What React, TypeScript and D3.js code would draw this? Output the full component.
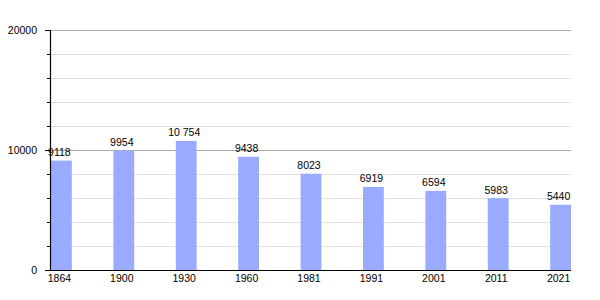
import React from "react";
import * as d3 from "d3";

const years = ["1864", "1900", "1930", "1960", "1981", "1991", "2001", "2011", "2021"];
const population = [9118, 9954, 10754, 9438, 8023, 6919, 6594, 5983, 5440];
const valueLabels = ["9118", "9954", "10 754", "9438", "8023", "6919", "6594", "5983", "5440"];
const majorTicks = [0, 10000, 20000];
const minorTicks = [2000, 4000, 6000, 8000, 12000, 14000, 16000, 18000];

export default function App() {
  const W = 600, H = 300;
  const left = 51, right = 571, top = 30, bottom = 270;
  const x = d3.scaleBand<string>().domain(years).range([left, right]).paddingInner(2 / 3).paddingOuter(0);
  const y = d3.scaleLinear().domain([0, 20000]).range([bottom, top]);
  const font = "'Liberation Sans', Arial, sans-serif";
  return (
    <svg width={W} height={H} style={{ position: "absolute", left: 0, top: 0, background: "#fff" }}>
      {minorTicks.map((t) => (
        <g key={"m" + t}>
          <line x1={left} x2={right} y1={y(t) + 0.5} y2={y(t) + 0.5} stroke="#e2e2e2" strokeWidth={1} />
          <line x1={47} x2={left} y1={y(t) + 0.5} y2={y(t) + 0.5} stroke="#000" strokeWidth={1} />
        </g>
      ))}
      {majorTicks.filter((t) => t > 0).map((t) => (
        <line key={"g" + t} x1={left} x2={right} y1={y(t) + 0.5} y2={y(t) + 0.5} stroke="#aaaaaa" strokeWidth={1} />
      ))}
      {years.map((yr, i) => (
        <rect key={yr} x={x(yr)!} y={y(population[i])} width={x.bandwidth()} height={bottom - y(population[i])} fill="#99aaff" />
      ))}
      {majorTicks.map((t) => (
        <g key={"M" + t}>
          <line x1={45} x2={left} y1={y(t) + 0.5} y2={y(t) + 0.5} stroke="#000" strokeWidth={1} />
          <text x={37} y={y(t) + 4} textAnchor="end" fontFamily={font} fontSize={10.5} fill="#000">{t}</text>
        </g>
      ))}
      <line x1={50.5} x2={50.5} y1={top} y2={bottom + 1} stroke="#000" strokeWidth={1.2} />
      <line x1={50} x2={right} y1={bottom + 0.5} y2={bottom + 0.5} stroke="#000" strokeWidth={1.2} />
      {years.map((yr, i) => {
        const cx = x(yr)! + x.bandwidth() / 2 - 2;
        return (
          <g key={"l" + yr}>
            <text x={cx} y={y(population[i]) - 4.5} textAnchor="middle" fontFamily={font} fontSize={10.5} fill="#000">{valueLabels[i]}</text>
            <text x={cx} y={282} textAnchor="middle" fontFamily={font} fontSize={10.5} fill="#000">{yr}</text>
          </g>
        );
      })}
    </svg>
  );
}
